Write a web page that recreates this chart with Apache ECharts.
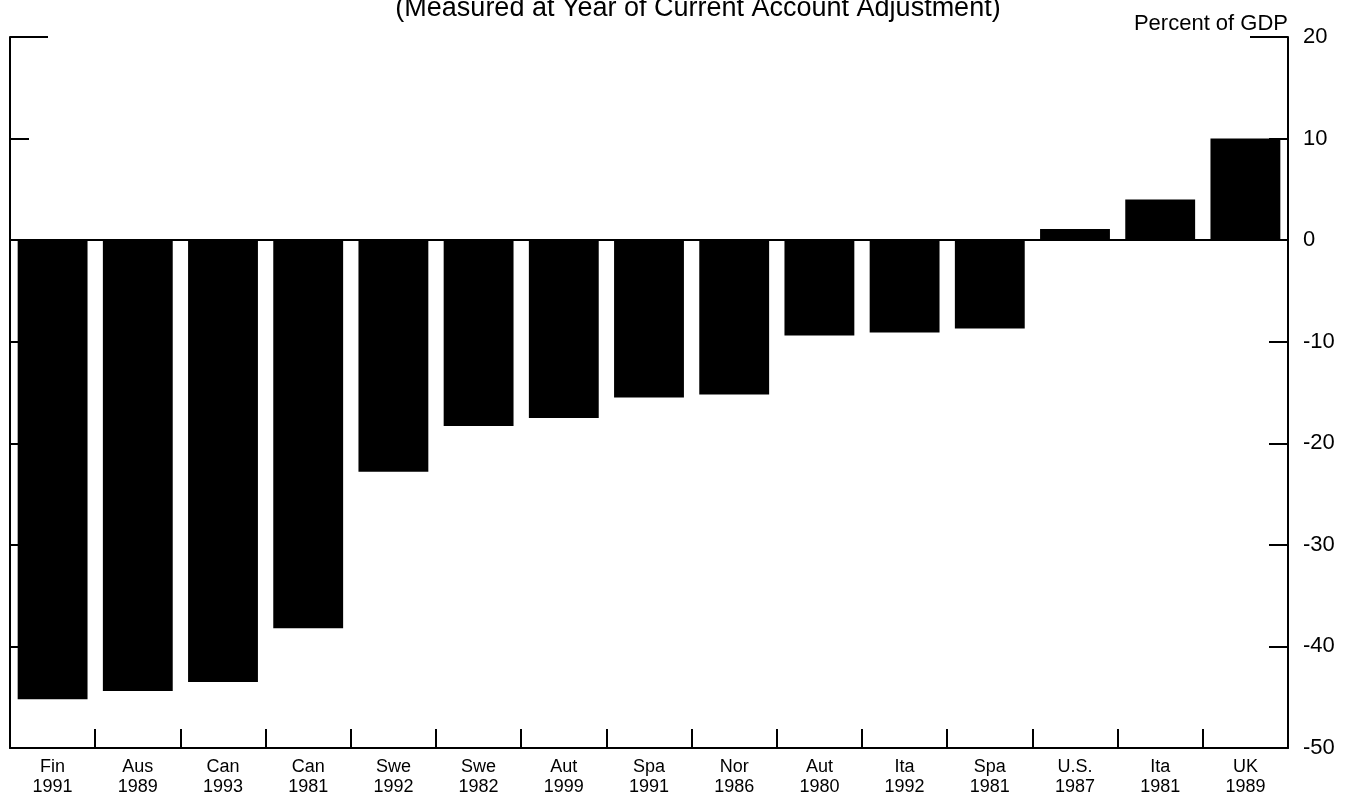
<!DOCTYPE html>
<html>
<head>
<meta charset="utf-8">
<script src="https://cdn.jsdelivr.net/npm/echarts@6/dist/echarts.min.js"></script>
<style>
  html, body { margin: 0; padding: 0; background: #fff; }
  #chart { width: 1352px; height: 798px; }
</style>
</head>
<body>
<div id="chart"></div>
<script>
const countries = ['Fin', 'Aus', 'Can', 'Can', 'Swe', 'Swe', 'Aut', 'Spa', 'Nor', 'Aut', 'Ita', 'Spa', 'U.S.', 'Ita', 'UK'];
const years = ['1991', '1989', '1993', '1981', '1992', '1982', '1999', '1991', '1986', '1980', '1992', '1981', '1987', '1981', '1989'];
const values = [-45.2, -44.4, -43.5, -38.2, -22.8, -18.3, -17.5, -15.5, -15.2, -9.4, -9.1, -8.7, 1.1, 4.0, 10.0];
const yMin = -50, yMax = 20, yStep = 10;
const titleText = '(Measured at Year of Current Account Adjustment)';
const unitText = 'Percent of GDP';

const categories = countries.map((c, i) => c + '\n' + years[i]);
const font = '"Liberation Sans", Arial, Helvetica, sans-serif';
const black = '#000';

const chart = echarts.init(document.getElementById('chart'), null, { renderer: 'canvas' });

function yAx(pos, interval, tickLen, showLine, showLabel) {
  return {
    type: 'value', position: pos, min: yMin, max: yMax, interval: interval,
    axisLine: { show: showLine, lineStyle: { color: black, width: 2 } },
    axisTick: { show: true, inside: true, length: tickLen, lineStyle: { color: black, width: 2 } },
    axisLabel: { show: showLabel, color: black, fontFamily: font, fontSize: 22, margin: 15, align: 'left' },
    splitLine: { show: false }
  };
}

chart.setOption({
  animation: false,
  backgroundColor: '#fff',
  title: [
    { text: titleText, left: 693, textAlign: 'center', top: -10,
      textStyle: { color: black, fontFamily: font, fontSize: 27, fontWeight: 'normal' } },
    { text: unitText, right: 59, top: 8,
      textStyle: { color: black, fontFamily: font, fontSize: 22, fontWeight: 'normal' } }
  ],
  grid: { left: 10, right: 64, top: 37, bottom: 50, containLabel: false },
  xAxis: {
    type: 'category', data: categories, position: 'bottom',
    axisLine: { onZero: false, lineStyle: { color: black, width: 2 } },
    axisTick: { show: true, inside: true, length: 19, alignWithLabel: false, lineStyle: { color: black, width: 2 } },
    axisLabel: { color: black, fontFamily: font, fontSize: 18, lineHeight: 20, margin: 9, interval: 0 },
    splitLine: { show: false }
  },
  yAxis: [
    yAx('left', yStep, 19, true, false),
    yAx('right', yStep, 19, true, true),
    yAx('left', yMax - yMin, 38, false, false),
    yAx('right', yMax - yMin, 38, false, false)
  ],
  series: [{
    type: 'bar', data: values, yAxisIndex: 0,
    barWidth: '82%',
    itemStyle: { color: black },
    markLine: {
      silent: true, symbol: ['none', 'none'], label: { show: false },
      lineStyle: { color: black, width: 2, type: 'solid' },
      data: [{ yAxis: 0 }]
    }
  }]
});
</script>
</body>
</html>
